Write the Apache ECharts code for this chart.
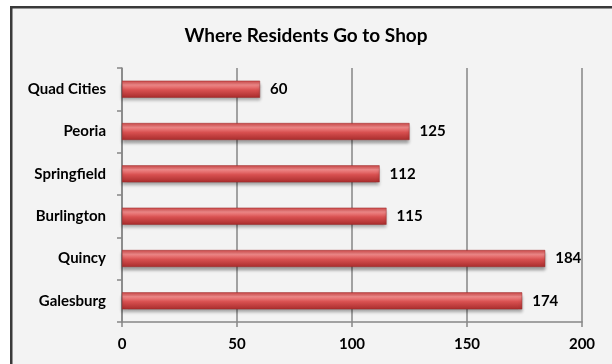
<!DOCTYPE html>
<html><head><meta charset="utf-8">
<script src="https://cdn.jsdelivr.net/npm/echarts@6/dist/echarts.min.js"></script>
<style>html,body{margin:0;padding:0;background:#fff}#c{width:612px;height:364px}</style>
</head><body><div id="c"></div>
<script>
const title = 'Where Residents Go to Shop';
const categories = ['Quad Cities','Peoria','Springfield','Burlington','Quincy','Galesburg'];
const values = [60,125,112,115,184,174];
const xTicks = [0,50,100,150,200];

const chart = echarts.init(document.getElementById('c'));
const font = 'Lato, "Open Sans", sans-serif';
chart.setOption({
  animation:false,
  backgroundColor:'#ffffff',
  graphic:[{type:'rect',left:10,top:6,shape:{width:620,height:380},
    style:{fill:'#f3f3f3',stroke:'#3a3a3a',lineWidth:2.5},z:-10}],
  title:{text:title,left:'center',top:21,textStyle:{fontFamily:font,fontWeight:'bold',fontSize:19,color:'#000'}},
  grid:{left:122,right:30,top:68,bottom:42,containLabel:false},
  xAxis:{type:'value',min:xTicks[0],max:xTicks[xTicks.length-1],interval:50,
    axisLine:{show:true,lineStyle:{color:'#868686',width:1.5}},
    axisTick:{show:true,length:5,lineStyle:{color:'#868686',width:1.5}},
    axisLabel:{fontFamily:font,fontWeight:'bold',fontSize:15,color:'#000',margin:15},
    splitLine:{show:true,lineStyle:{color:'#868686',width:1.5}}},
  yAxis:{type:'category',data:categories,inverse:true,
    axisLine:{show:true,lineStyle:{color:'#868686',width:1.5}},
    axisTick:{show:true,length:5,lineStyle:{color:'#868686',width:1.5}},
    axisLabel:{fontFamily:font,fontWeight:'bold',fontSize:15,color:'#000',margin:16}},
  series:[{type:'bar',data:values,barWidth:17,
    itemStyle:{color:new echarts.graphic.LinearGradient(0,0,0,1,[
      {offset:0,color:'#c84444'},{offset:0.25,color:'#f28a8a'},{offset:0.55,color:'#d85050'},{offset:1,color:'#a82c2c'}]),
      shadowColor:'rgba(0,0,0,0.35)',shadowBlur:3,shadowOffsetY:3,borderColor:'#9a2a2a',borderWidth:0.5},
    label:{show:true,position:'right',distance:10,fontFamily:font,fontWeight:'bold',fontSize:15,color:'#000'}}]
});
</script></body></html>
